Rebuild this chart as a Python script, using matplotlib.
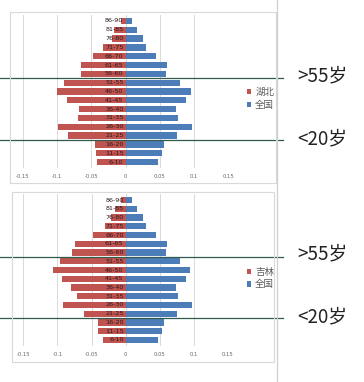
import numpy as np
import matplotlib
matplotlib.use("Agg")
import matplotlib.pyplot as plt
from matplotlib.patches import Rectangle
from matplotlib.lines import Line2D

plt.rcParams['font.family'] = ['Noto Sans CJK SC', 'DejaVu Sans']

# ---- data ----
ages = ["6-10", "11-15", "16-20", "21-25", "26-30", "31-35", "36-40", "41-45",
        "46-50", "51-55", "56-60", "61-65", "66-70", "71-75", "76-80", "81-85", "86-90"]
hubei = [0.041, 0.043, 0.044, 0.084, 0.099, 0.070, 0.068, 0.085,
         0.100, 0.090, 0.065, 0.065, 0.048, 0.033, 0.020, 0.017, 0.007]
jilin = [0.033, 0.040, 0.041, 0.061, 0.092, 0.072, 0.080, 0.094,
         0.106, 0.096, 0.078, 0.074, 0.048, 0.030, 0.021, 0.016, 0.007]
national = [0.047, 0.053, 0.056, 0.075, 0.097, 0.076, 0.074, 0.089,
            0.095, 0.079, 0.059, 0.061, 0.044, 0.030, 0.025, 0.017, 0.009]
xticks = [-0.15, -0.1, -0.05, 0, 0.05, 0.1, 0.15]
xlabels = ["-0.15", "-0.1", "-0.05", "0", "0.05", "0.1", "0.15"]

W, H = 364, 382
RED = '#bf5451'
BLUE = '#4d7db8'
LINE = '#2f5a4d'

fig = plt.figure(figsize=(W / 100, H / 100), dpi=100)
fig.patch.set_facecolor('white')


def px_axes(l, t, r, b):
    return fig.add_axes([l / W, 1 - b / H, (r - l) / W, (b - t) / H])


def panel(ax, region, name, legend_xy):
    y = np.arange(len(ages))
    b1 = ax.barh(y, -np.array(region), height=0.72, color=RED, label=name, zorder=2)
    b2 = ax.barh(y, national, height=0.72, color=BLUE, label="全国", zorder=2)
    for yi, a in zip(y, ages):
        ax.text(-0.003, yi, a, ha='right', va='center', fontsize=4.6,
                color='#2a1a1a', family='DejaVu Sans', zorder=3)
    ax.set_xlim(-0.15, 0.15)
    ax.set_ylim(-0.7, len(ages) - 0.3)
    ax.set_xticks(xticks)
    ax.set_xticklabels(xlabels, fontsize=3.8, color='#666666', family='DejaVu Sans')
    ax.set_yticks([])
    ax.tick_params(axis='x', length=0, pad=4)
    ax.grid(axis='x', color='#d9d9d9', lw=0.7, zorder=0)
    for s in ax.spines.values():
        s.set_visible(False)
    pos = ax.get_position()
    xmin = -pos.x0 / pos.width
    xmax = (283 / W - pos.x0) / pos.width
    for yl in (9.5, 2.5):
        ax.axhline(yl, xmin=xmin, xmax=xmax, color=LINE, lw=0.9, clip_on=False, zorder=4)
    tx = (297 / W - pos.x0) / pos.width
    ax.text(tx, 9.8, ">55岁", transform=ax.get_yaxis_transform(), fontsize=13.5,
            color='#222222', va='center', ha='left')
    ax.text(tx, 2.6, "<20岁", transform=ax.get_yaxis_transform(), fontsize=13.5,
            color='#222222', va='center', ha='left')
    ax.legend(handles=[b1, b2], loc='upper left',
              bbox_to_anchor=(legend_xy[0] / W, 1 - legend_xy[1] / H),
              bbox_transform=fig.transFigure, frameon=False, fontsize=6.8,
              handlelength=0.5, handleheight=0.5, handletextpad=0.4,
              labelspacing=0.35, borderpad=0, labelcolor='#595959')


ax1 = px_axes(22.7, 14.8, 228.3, 168.2)
panel(ax1, hubei, "湖北", (242, 83))
ax2 = px_axes(23.3, 193.9, 228.0, 346.1)
panel(ax2, jilin, "吉林", (242, 263))

# panel frames and the right divider
fig.add_artist(Rectangle((10 / W, 1 - 183 / H), 266 / W, 171 / H, transform=fig.transFigure,
                         fill=False, ec='#d9d9d9', lw=0.8))
fig.add_artist(Rectangle((12 / W, 1 - 362 / H), 262 / W, 170 / H, transform=fig.transFigure,
                         fill=False, ec='#d9d9d9', lw=0.8))
fig.add_artist(Line2D([277 / W, 277 / W], [0, 1], transform=fig.transFigure,
                      color='#d0d0d0', lw=0.9))

fig.savefig("out.png", dpi=100)
